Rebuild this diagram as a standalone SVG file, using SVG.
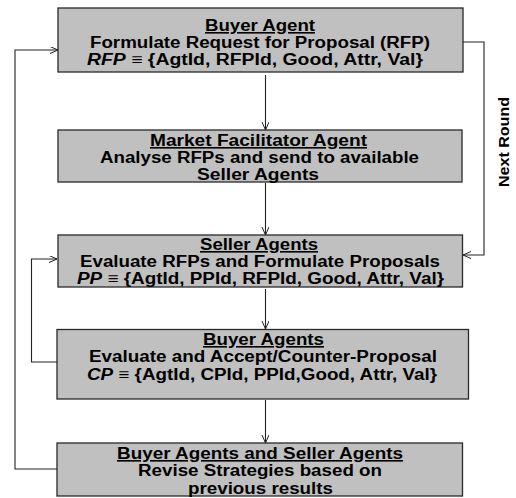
<svg xmlns="http://www.w3.org/2000/svg" width="516" height="498" viewBox="0 0 516 498">
<style>
.box{fill:#c0c0c0;stroke:#2a2a2a;stroke-width:1.3}
.t{font-family:"Liberation Sans",Arial,sans-serif;font-weight:bold;font-size:16px;fill:#000;text-anchor:middle}
.u{text-decoration:underline}
.i{font-style:italic}
.c{fill:none;stroke:#222;stroke-width:1.1}
</style>
<defs>
<marker id="ah" markerWidth="10" markerHeight="8" refX="8" refY="3.5" orient="auto" markerUnits="userSpaceOnUse">
<path d="M0,0 L8,3.5 L0,7" fill="none" stroke="#222" stroke-width="1"/>
</marker>
</defs>
<rect width="516" height="498" fill="#fff"/>
<g id="connectors">
<path class="c" d="M265.5,75 V130" marker-end="url(#ah)"/>
<path class="c" d="M265.5,183 V235" marker-end="url(#ah)"/>
<path class="c" d="M265.5,289 V329" marker-end="url(#ah)"/>
<path class="c" d="M265.5,400 V443" stroke="#555" marker-end="url(#ah)"/>
<path class="c" d="M463,42 H484 V255 H463" marker-end="url(#ah)"/>
<path class="c" d="M57,362 H31.5 V259 H57" marker-end="url(#ah)"/>
<path class="c" d="M57,469 H15 V50 H58" stroke="#555" marker-end="url(#ah)"/>
<text x="0" y="0" transform="translate(509,142) rotate(-90)" class="t" style="font-size:15px" textLength="90" lengthAdjust="spacingAndGlyphs">Next Round</text>
</g>
<g id="buyer-agent">
<rect class="box" x="58" y="8" width="405" height="64"/>
<text class="t u" x="260" y="31" textLength="110" lengthAdjust="spacingAndGlyphs">Buyer Agent</text>
<text class="t" x="260" y="48" textLength="340" lengthAdjust="spacingAndGlyphs">Formulate Request for Proposal (RFP)</text>
<text class="t" x="255" y="65" textLength="336" lengthAdjust="spacingAndGlyphs"><tspan class="i">RFP</tspan> ≡ {AgtId, RFPId, Good, Attr, Val}</text>
</g>
<g id="market-facilitator">
<rect class="box" x="58" y="130" width="404" height="52"/>
<text class="t u" x="258.5" y="146" textLength="217" lengthAdjust="spacingAndGlyphs">Market Facilitator Agent</text>
<text class="t" x="259.5" y="163" textLength="319" lengthAdjust="spacingAndGlyphs">Analyse RFPs and send to available</text>
<text class="t" x="258" y="180" textLength="122" lengthAdjust="spacingAndGlyphs">Seller Agents</text>
</g>
<g id="seller-agents">
<rect class="box" x="58" y="235" width="404.5" height="52"/>
<text class="t u" x="259" y="250" textLength="118" lengthAdjust="spacingAndGlyphs">Seller Agents</text>
<text class="t" x="260" y="267" textLength="360" lengthAdjust="spacingAndGlyphs">Evaluate RFPs and Formulate Proposals</text>
<text class="t" x="260.5" y="284" textLength="367" lengthAdjust="spacingAndGlyphs"><tspan class="i">PP</tspan> ≡ {AgtId, PPId, RFPId, Good, Attr, Val}</text>
</g>
<g id="buyer-agents">
<rect class="box" x="57" y="329.5" width="411.5" height="69.5"/>
<text class="t u" x="263.5" y="345" textLength="121" lengthAdjust="spacingAndGlyphs">Buyer Agents</text>
<text class="t" x="263" y="362" textLength="348" lengthAdjust="spacingAndGlyphs">Evaluate and Accept/Counter-Proposal</text>
<text class="t" x="262" y="380" textLength="350" lengthAdjust="spacingAndGlyphs"><tspan class="i">CP</tspan> ≡ {AgtId, CPId, PPId,Good, Attr, Val}</text>
</g>
<g id="revise-strategies">
<rect class="box" x="57" y="443" width="405.5" height="53"/>
<text class="t u" x="260" y="459" textLength="286" lengthAdjust="spacingAndGlyphs">Buyer Agents and Seller Agents</text>
<text class="t" x="260" y="476" textLength="244" lengthAdjust="spacingAndGlyphs">Revise Strategies based on</text>
<text class="t" x="260.5" y="494" textLength="145" lengthAdjust="spacingAndGlyphs">previous results</text>
</g>
</svg>
